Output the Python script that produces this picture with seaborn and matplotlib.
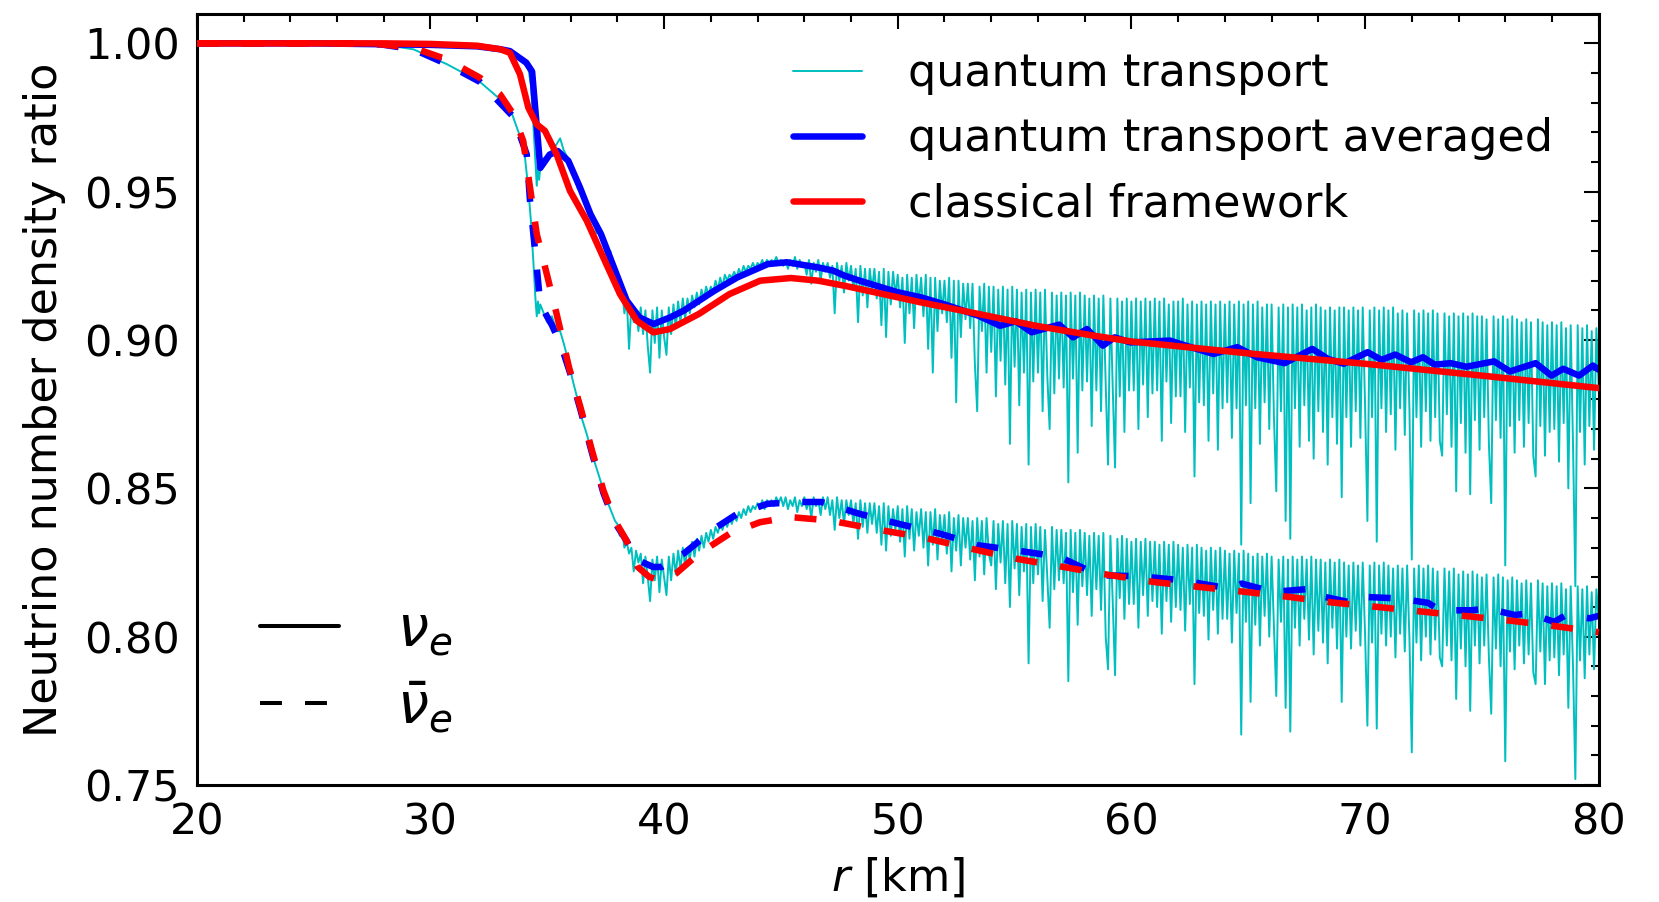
import numpy as np
import matplotlib
matplotlib.use("Agg")
import matplotlib.pyplot as plt
from matplotlib.lines import Line2D
from matplotlib.ticker import MultipleLocator
import seaborn as sns

# ---------------- data ----------------
x_ticks = [20, 30, 40, 50, 60, 70, 80]
y_ticks = [0.75, 0.80, 0.85, 0.90, 0.95, 1.00]
y_tick_labels = ["0.75", "0.80", "0.85", "0.90", "0.95", "1.00"]

series_labels = ["quantum transport", "quantum transport averaged", "classical framework"]
flavour_labels = [r"$\nu_e$", r"$\bar{\nu}_e$"]

# quantum transport averaged, nu_e (blue solid)
avg_e_r = [20, 25, 30, 32, 33, 33.4, 34.1, 34.35, 34.7, 35.1, 35.45, 35.9, 36.4, 36.85, 37.3,
           37.85, 38.4, 38.95, 39.55, 40.25, 40.84, 42.15, 43.13, 44.44, 45.26, 46.57, 47.23,
           47.72, 48.37, 50.0, 50.99, 51.97, 53.45, 54.38, 55.05, 55.73, 56.91, 57.5, 58.1,
           58.78, 59.28, 59.96, 61.65, 62.33, 63.51, 64.53, 65.37, 66.56, 67.74, 68.42, 69.09,
           70.11, 70.7, 71.29, 71.97, 72.48, 72.98, 73.66, 74.34, 75.52, 76.2, 77.3, 77.98,
           78.48, 79.16, 79.75, 80.0]
avg_e = [1.0, 1.0, 0.9995, 0.999, 0.998, 0.9974, 0.9935, 0.9905, 0.958, 0.9625, 0.9637, 0.9604,
         0.9514, 0.9424, 0.9357, 0.9245, 0.9133, 0.9076, 0.9054, 0.9076, 0.9099, 0.9166, 0.9211,
         0.9256, 0.9262, 0.9245, 0.9234, 0.9217, 0.92, 0.9161, 0.9144, 0.9121, 0.9082, 0.9048,
         0.9063, 0.9026, 0.9052, 0.9009, 0.9037, 0.8981, 0.9009, 0.8992, 0.8998, 0.8981, 0.8953,
         0.8976, 0.8942, 0.8922, 0.897, 0.8936, 0.892, 0.8959, 0.8933, 0.8951, 0.8925, 0.8942,
         0.8917, 0.8922, 0.891, 0.8928, 0.8894, 0.8922, 0.888, 0.8903, 0.888, 0.8914, 0.890]

# classical framework, nu_e (red solid)
cl_e_r = [20, 28, 30, 32, 33, 33.4, 33.83, 34.19, 34.55, 34.9, 35.4, 35.97, 36.69, 37.4, 38.11,
          38.83, 39.54, 40.25, 41.49, 42.8, 44.11, 45.42, 46.6, 47.72, 49.36, 50.99, 53.45,
          55.91, 58.37, 60, 65, 70, 75, 80]
cl_e = [1.0, 1.0, 0.9998, 0.9992, 0.998, 0.9968, 0.9896, 0.9783, 0.9727, 0.9705, 0.9626, 0.9503,
        0.9402, 0.9278, 0.9155, 0.9065, 0.9026, 0.9037, 0.9088, 0.9155, 0.92, 0.9209, 0.92,
        0.9183, 0.9155, 0.9127, 0.9088, 0.9048, 0.9015, 0.8995, 0.8955, 0.892, 0.888, 0.8838]

# quantum transport averaged, anti-nu_e (blue dashed)
avg_eb_r = [20, 26, 27.84, 29.27, 30.7, 32.12, 33.55, 34.12, 34.26, 34.55, 34.7, 35.2, 35.6,
            35.97, 36.42, 36.91, 37.4, 37.89, 38.38, 38.87, 39.53, 39.9, 40.84, 42.15, 43.13,
            44.44, 45.75, 46.74, 48.37, 50.01, 51.81, 53.45, 55.05, 56.92, 58.61, 60.31, 62.17,
            64.2, 64.72, 66.07, 67.77, 68.28, 69.46, 69.97, 71.41, 72.7, 73.2, 74.56, 75.24,
            76.42, 77.0, 78.1, 78.6, 79.6, 80]
avg_eb = [1.0, 1.0, 0.9997, 0.998, 0.993, 0.987, 0.9752, 0.9626, 0.947, 0.9245, 0.912, 0.905,
          0.898, 0.889, 0.8765, 0.862, 0.8485, 0.8385, 0.8325, 0.8258, 0.8235, 0.8235, 0.828,
          0.8364, 0.8414, 0.8448, 0.8454, 0.8454, 0.8414, 0.8381, 0.8347, 0.8308, 0.8291,
          0.8269, 0.8207, 0.8204, 0.819, 0.8162, 0.8179, 0.8151, 0.8162, 0.8134, 0.8114,
          0.8134, 0.8129, 0.8114, 0.8089, 0.8089, 0.8095, 0.8073, 0.8079, 0.805, 0.8073,
          0.8062, 0.807]

# classical framework, anti-nu_e (red dashed)
cl_eb_r = [20, 26, 27.84, 29.27, 30.7, 32.12, 32.98, 33.55, 33.97, 34.26, 34.55, 34.98, 35.4,
           35.93, 36.42, 36.91, 37.4, 37.89, 38.38, 38.87, 39.37, 39.86, 40.51, 41.49, 42.8,
           44.11, 45.42, 47.06, 49.36, 50.99, 53.45, 55.05, 57.09, 59.12, 60.99, 62.85, 64.88,
           66.75, 68.62, 70.56, 72.51, 74.38, 76.33, 78.19, 80]
cl_eb = [1.0, 1.0, 0.9997, 0.9985, 0.9946, 0.9884, 0.9828, 0.9761, 0.9671, 0.9514, 0.9357,
         0.9222, 0.9088, 0.8908, 0.8773, 0.8628, 0.8493, 0.8392, 0.8325, 0.8235, 0.8201, 0.819,
         0.8213, 0.828, 0.8347, 0.8386, 0.8403, 0.8392, 0.8358, 0.8336, 0.8291, 0.8263, 0.8235,
         0.8207, 0.8184, 0.8168, 0.8151, 0.8134, 0.8115, 0.81, 0.8084, 0.8069, 0.8053, 0.8035,
         0.8015]

# quantum transport (cyan, unaveraged) -- sparse head up to 37.9 km
qt_head_r = [20, 25, 26, 27.84, 29.27, 30.7, 32.12, 33.0, 33.5, 34.0, 34.2, 34.3, 34.4, 34.5,
             34.55, 34.6, 34.65, 34.7, 34.8, 35.0, 35.2, 35.4, 35.55, 35.7, 35.9, 36.1, 36.3,
             36.5, 36.7, 36.9, 37.1, 37.3, 37.5, 37.7, 37.9]
qt_e_head = [1.0, 1.0, 1.0, 0.9998, 0.9996, 0.9993, 0.999, 0.9984, 0.997, 0.994, 0.991, 0.986,
             0.973, 0.959, 0.952, 0.960, 0.954, 0.958, 0.961, 0.962, 0.964, 0.966, 0.968,
             0.964, 0.961, 0.958, 0.951, 0.950, 0.944, 0.943, 0.936, 0.937, 0.929, 0.930, 0.921]
qt_eb_head = [1.0, 1.0, 1.0, 0.9997, 0.998, 0.993, 0.987, 0.981, 0.976, 0.965, 0.950, 0.940,
              0.927, 0.913, 0.908, 0.913, 0.909, 0.912, 0.910, 0.906, 0.908, 0.903, 0.903,
              0.899, 0.893, 0.886, 0.880, 0.873, 0.868, 0.862, 0.857, 0.852, 0.847, 0.843, 0.839]

# ... then every 0.1 km from 38.0 to 80.0 km (one row per km)
qt_tail_start, qt_tail_step = 38.0, 0.1
qt_e_tail = [
    0.921, 0.917, 0.918, 0.909, 0.914, 0.897, 0.912, 0.906, 0.910, 0.903,  # 38
    0.911, 0.902, 0.910, 0.898, 0.889, 0.910, 0.899, 0.911, 0.894, 0.910,  # 39
    0.901, 0.895, 0.911, 0.902, 0.912, 0.904, 0.913, 0.906, 0.914, 0.907,  # 40
    0.914, 0.909, 0.915, 0.911, 0.916, 0.912, 0.917, 0.914, 0.918, 0.915,  # 41
    0.918, 0.916, 0.920, 0.917, 0.921, 0.918, 0.922, 0.920, 0.922, 0.921,  # 42
    0.923, 0.921, 0.924, 0.922, 0.925, 0.923, 0.925, 0.924, 0.926, 0.924,  # 43
    0.926, 0.925, 0.927, 0.925, 0.927, 0.926, 0.927, 0.926, 0.928, 0.926,  # 44
    0.927, 0.925, 0.927, 0.924, 0.927, 0.925, 0.928, 0.924, 0.927, 0.925,  # 45
    0.926, 0.922, 0.927, 0.919, 0.926, 0.923, 0.927, 0.920, 0.926, 0.923,  # 46
    0.926, 0.921, 0.925, 0.909, 0.926, 0.920, 0.925, 0.916, 0.926, 0.920,  # 47
    0.925, 0.917, 0.924, 0.906, 0.925, 0.915, 0.924, 0.911, 0.924, 0.917,  # 48
    0.924, 0.914, 0.923, 0.905, 0.924, 0.901, 0.923, 0.912, 0.923, 0.915,  # 49
    0.922, 0.911, 0.921, 0.899, 0.922, 0.909, 0.921, 0.904, 0.922, 0.912,  # 50
    0.921, 0.908, 0.922, 0.897, 0.921, 0.889, 0.921, 0.903, 0.920, 0.909,  # 51
    0.920, 0.906, 0.921, 0.894, 0.920, 0.879, 0.920, 0.901, 0.919, 0.907,  # 52
    0.919, 0.904, 0.919, 0.892, 0.876, 0.918, 0.903, 0.919, 0.889, 0.918,  # 53
    0.896, 0.918, 0.881, 0.917, 0.893, 0.918, 0.885, 0.917, 0.865, 0.918,  # 54
    0.891, 0.917, 0.878, 0.916, 0.889, 0.917, 0.858, 0.916, 0.886, 0.917,  # 55
    0.889, 0.916, 0.876, 0.917, 0.888, 0.870, 0.916, 0.882, 0.915, 0.887,  # 56
    0.916, 0.884, 0.915, 0.852, 0.916, 0.887, 0.915, 0.862, 0.916, 0.883,  # 57
    0.915, 0.886, 0.914, 0.871, 0.915, 0.883, 0.914, 0.876, 0.915, 0.885,  # 58
    0.858, 0.914, 0.884, 0.857, 0.914, 0.881, 0.913, 0.869, 0.914, 0.883,  # 59
    0.913, 0.883, 0.914, 0.870, 0.913, 0.885, 0.914, 0.874, 0.913, 0.882,  # 60
    0.914, 0.883, 0.913, 0.866, 0.914, 0.886, 0.912, 0.872, 0.913, 0.881,  # 61
    0.913, 0.881, 0.914, 0.869, 0.912, 0.884, 0.913, 0.854, 0.912, 0.879,  # 62
    0.913, 0.878, 0.912, 0.866, 0.913, 0.882, 0.912, 0.863, 0.913, 0.877,  # 63
    0.912, 0.879, 0.913, 0.867, 0.912, 0.877, 0.913, 0.831, 0.912, 0.878,  # 64
    0.913, 0.845, 0.912, 0.877, 0.913, 0.865, 0.911, 0.879, 0.912, 0.870,  # 65
    0.912, 0.874, 0.849, 0.911, 0.876, 0.912, 0.839, 0.911, 0.833, 0.912,  # 66
    0.877, 0.911, 0.864, 0.912, 0.878, 0.910, 0.866, 0.911, 0.860, 0.912,  # 67
    0.876, 0.911, 0.869, 0.910, 0.858, 0.911, 0.874, 0.910, 0.865, 0.911,  # 68
    0.847, 0.911, 0.874, 0.910, 0.864, 0.911, 0.876, 0.910, 0.867, 0.911,  # 69
    0.878, 0.839, 0.910, 0.874, 0.911, 0.832, 0.910, 0.877, 0.911, 0.869,  # 70
    0.910, 0.875, 0.911, 0.863, 0.909, 0.877, 0.910, 0.868, 0.909, 0.876,  # 71
    0.826, 0.910, 0.874, 0.909, 0.864, 0.910, 0.876, 0.909, 0.866, 0.910,  # 72
    0.874, 0.909, 0.866, 0.861, 0.909, 0.875, 0.908, 0.864, 0.909, 0.849,  # 73
    0.908, 0.872, 0.909, 0.862, 0.908, 0.848, 0.909, 0.873, 0.908, 0.863,  # 74
    0.908, 0.874, 0.907, 0.865, 0.845, 0.908, 0.873, 0.907, 0.867, 0.908,  # 75
    0.824, 0.907, 0.871, 0.908, 0.862, 0.907, 0.873, 0.906, 0.864, 0.907,  # 76
    0.872, 0.906, 0.861, 0.854, 0.907, 0.871, 0.906, 0.861, 0.905, 0.869,  # 77
    0.906, 0.870, 0.905, 0.859, 0.906, 0.872, 0.904, 0.850, 0.905, 0.865,  # 78
    0.817, 0.905, 0.869, 0.904, 0.858, 0.905, 0.871, 0.903, 0.863, 0.904,  # 79
    0.884,                                                                 # 80
]
qt_eb_tail = [
    0.838, 0.834, 0.836, 0.830, 0.832, 0.828, 0.830, 0.822, 0.829, 0.825,  # 38
    0.828, 0.818, 0.827, 0.820, 0.812, 0.826, 0.819, 0.827, 0.815, 0.826,  # 39
    0.820, 0.814, 0.827, 0.819, 0.828, 0.821, 0.829, 0.823, 0.830, 0.824,  # 40
    0.830, 0.826, 0.832, 0.827, 0.833, 0.829, 0.834, 0.830, 0.835, 0.832,  # 41
    0.836, 0.833, 0.837, 0.835, 0.838, 0.836, 0.839, 0.837, 0.840, 0.838,  # 42
    0.841, 0.839, 0.842, 0.840, 0.843, 0.841, 0.844, 0.842, 0.844, 0.843,  # 43
    0.845, 0.843, 0.846, 0.843, 0.846, 0.844, 0.846, 0.844, 0.847, 0.845,  # 44
    0.847, 0.844, 0.847, 0.843, 0.846, 0.844, 0.847, 0.842, 0.846, 0.844,  # 45
    0.847, 0.843, 0.846, 0.840, 0.847, 0.844, 0.846, 0.841, 0.847, 0.843,  # 46
    0.847, 0.841, 0.846, 0.836, 0.847, 0.840, 0.846, 0.838, 0.846, 0.841,  # 47
    0.846, 0.838, 0.845, 0.833, 0.846, 0.837, 0.845, 0.835, 0.845, 0.838,  # 48
    0.845, 0.835, 0.844, 0.831, 0.845, 0.829, 0.844, 0.834, 0.843, 0.836,  # 49
    0.844, 0.832, 0.843, 0.827, 0.844, 0.833, 0.843, 0.829, 0.842, 0.834,  # 50
    0.843, 0.830, 0.842, 0.824, 0.842, 0.831, 0.843, 0.826, 0.841, 0.832,  # 51
    0.841, 0.828, 0.842, 0.822, 0.840, 0.829, 0.841, 0.824, 0.840, 0.830,  # 52
    0.840, 0.826, 0.839, 0.819, 0.840, 0.827, 0.839, 0.821, 0.840, 0.828,  # 53
    0.824, 0.839, 0.816, 0.838, 0.825, 0.839, 0.818, 0.838, 0.810, 0.839,  # 54
    0.823, 0.838, 0.814, 0.837, 0.822, 0.838, 0.791, 0.837, 0.818, 0.838,  # 55
    0.821, 0.837, 0.812, 0.836, 0.820, 0.803, 0.837, 0.816, 0.836, 0.819,  # 56
    0.836, 0.818, 0.835, 0.785, 0.836, 0.815, 0.835, 0.804, 0.836, 0.817,  # 57
    0.835, 0.814, 0.834, 0.807, 0.835, 0.816, 0.834, 0.809, 0.835, 0.800,  # 58
    0.789, 0.834, 0.812, 0.787, 0.833, 0.813, 0.834, 0.806, 0.833, 0.811,  # 59
    0.832, 0.811, 0.833, 0.803, 0.832, 0.814, 0.833, 0.807, 0.832, 0.812,  # 60
    0.832, 0.810, 0.831, 0.801, 0.832, 0.812, 0.831, 0.805, 0.832, 0.810,  # 61
    0.831, 0.809, 0.830, 0.802, 0.831, 0.811, 0.830, 0.784, 0.831, 0.808,  # 62
    0.830, 0.807, 0.829, 0.799, 0.830, 0.809, 0.829, 0.801, 0.830, 0.806,  # 63
    0.829, 0.806, 0.828, 0.798, 0.829, 0.808, 0.828, 0.767, 0.829, 0.805,  # 64
    0.828, 0.778, 0.827, 0.804, 0.828, 0.797, 0.827, 0.807, 0.828, 0.800,  # 65
    0.827, 0.804, 0.780, 0.826, 0.805, 0.827, 0.776, 0.826, 0.768, 0.827,  # 66
    0.803, 0.826, 0.797, 0.827, 0.806, 0.826, 0.799, 0.827, 0.794, 0.826,  # 67
    0.802, 0.826, 0.798, 0.825, 0.791, 0.826, 0.803, 0.825, 0.796, 0.826,  # 68
    0.778, 0.825, 0.800, 0.824, 0.796, 0.825, 0.802, 0.824, 0.797, 0.825,  # 69
    0.801, 0.770, 0.824, 0.798, 0.825, 0.769, 0.824, 0.801, 0.825, 0.797,  # 70
    0.824, 0.800, 0.823, 0.793, 0.824, 0.801, 0.823, 0.795, 0.824, 0.799,  # 71
    0.761, 0.823, 0.798, 0.824, 0.792, 0.823, 0.800, 0.824, 0.794, 0.823,  # 72
    0.799, 0.822, 0.793, 0.790, 0.823, 0.797, 0.822, 0.792, 0.823, 0.779,  # 73
    0.821, 0.796, 0.822, 0.790, 0.821, 0.775, 0.822, 0.797, 0.821, 0.791,  # 74
    0.820, 0.797, 0.821, 0.793, 0.774, 0.820, 0.796, 0.821, 0.790, 0.820,  # 75
    0.758, 0.819, 0.795, 0.820, 0.789, 0.819, 0.797, 0.818, 0.791, 0.819,  # 76
    0.794, 0.818, 0.788, 0.784, 0.819, 0.795, 0.818, 0.784, 0.817, 0.792,  # 77
    0.818, 0.793, 0.817, 0.787, 0.818, 0.794, 0.816, 0.776, 0.817, 0.790,  # 78
    0.752, 0.817, 0.792, 0.816, 0.786, 0.817, 0.794, 0.815, 0.789, 0.816,  # 79
    0.806,                                                                 # 80
]

qt_tail_r = [round(qt_tail_start + i * qt_tail_step, 1) for i in range(len(qt_e_tail))]
qt_r = qt_head_r + qt_tail_r
qt_e = qt_e_head + qt_e_tail
qt_eb = qt_eb_head + qt_eb_tail

# ---------------- styling ----------------
sns.set_style("white")
plt.rcParams["font.family"] = ["DejaVu Sans"]
plt.rcParams["mathtext.fontset"] = "dejavusans"
plt.rcParams["lines.scale_dashes"] = False
for key in ["text.color", "axes.labelcolor", "xtick.color", "ytick.color", "axes.edgecolor"]:
    plt.rcParams[key] = "black"

CYAN, BLUE, RED = "#00bfbf", "#0000ff", "#ff0000"
THICK, THIN = 4.7, 1.4
DASH = (0, (15.8, 16.6))

fig = plt.figure(figsize=(16.59, 9.02), dpi=100)
ax = fig.add_axes([0.11863, 0.12971, 0.84503, 0.85510])

common = dict(ax=ax, estimator=None, sort=False)
sns.lineplot(x=qt_r, y=qt_e, color=CYAN, lw=THIN, zorder=1, **common)
sns.lineplot(x=qt_r, y=qt_eb, color=CYAN, lw=THIN, zorder=1, **common)
sns.lineplot(x=avg_e_r, y=avg_e, color=BLUE, lw=THICK, zorder=2, **common)
sns.lineplot(x=avg_eb_r, y=avg_eb, color=BLUE, lw=THICK, linestyle=DASH, zorder=2, **common)
sns.lineplot(x=cl_e_r, y=cl_e, color=RED, lw=THICK, zorder=3, **common)
sns.lineplot(x=cl_eb_r, y=cl_eb, color=RED, lw=THICK, linestyle=DASH, zorder=3, **common)

ax.set_xlim(20, 80)
ax.set_ylim(0.75, 1.01)
ax.set_xticks(x_ticks)
ax.set_xticklabels([str(v) for v in x_ticks])
ax.set_yticks(y_ticks)
ax.set_yticklabels(y_tick_labels)
ax.xaxis.set_minor_locator(MultipleLocator(2))
ax.yaxis.set_minor_locator(MultipleLocator(0.01))
ax.tick_params(which="both", direction="in", top=True, right=True, width=1.5,
               color="black", labelsize=31, labelcolor="black")
ax.tick_params(which="major", length=10.5)
ax.tick_params(which="minor", length=5.5)
ax.tick_params(axis="x", which="major", pad=12)
ax.tick_params(axis="y", which="major", pad=12)
for sp in ax.spines.values():
    sp.set_linewidth(2.2)
    sp.set_color("black")

ax.set_xlabel(r"$r$ [km]", fontsize=32, labelpad=9)
ax.set_ylabel("Neutrino number density ratio", fontsize=32, labelpad=13)

h1 = [Line2D([], [], color=CYAN, lw=THIN),
      Line2D([], [], color=BLUE, lw=THICK),
      Line2D([], [], color=RED, lw=THICK)]
leg1 = ax.legend(h1, series_labels, loc="upper left", bbox_to_anchor=(0.4253, 0.950),
                 frameon=False, fontsize=32, handlelength=1.55, handletextpad=1.04,
                 labelspacing=0.5, borderpad=0, borderaxespad=0)
ax.add_artist(leg1)

h2 = [Line2D([], [], color="black", lw=2.9),
      Line2D([], [], color="black", lw=2.9, linestyle=DASH)]
ax.legend(h2, flavour_labels, loc="center left", bbox_to_anchor=(0.045, 0.150),
          frameon=False, fontsize=40, handlelength=1.42, handletextpad=1.05,
          labelspacing=0.4, borderpad=0, borderaxespad=0)

fig.savefig("out.png", dpi=100)
